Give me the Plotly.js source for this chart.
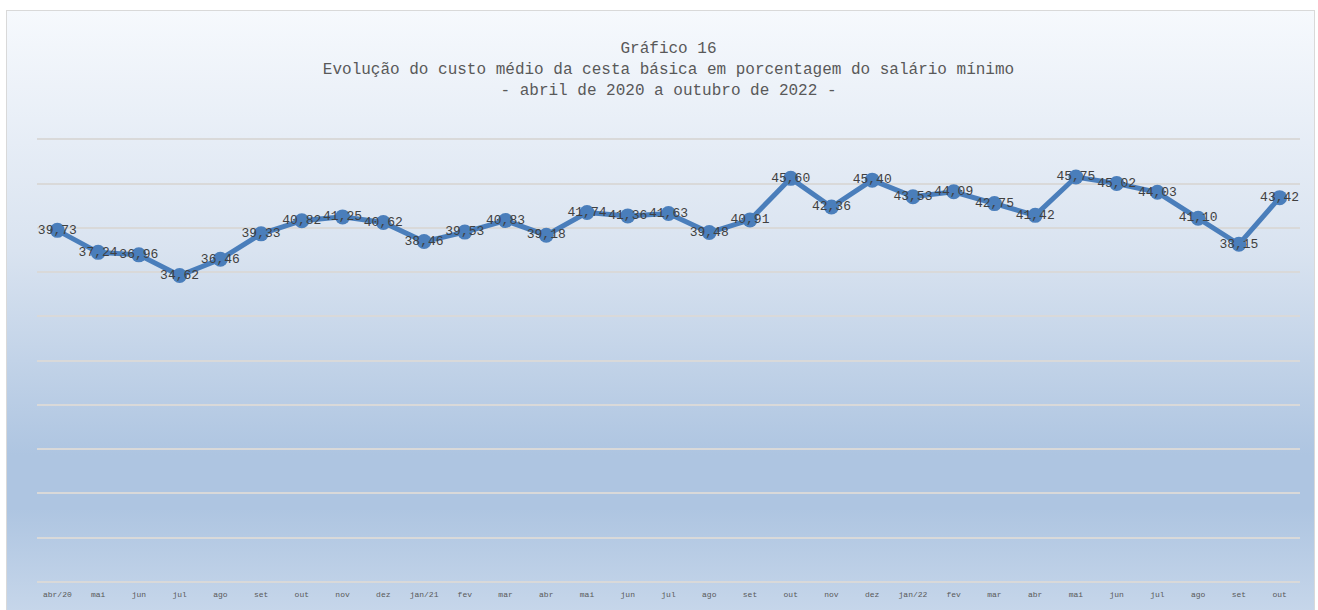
<!DOCTYPE html>
<html>
<head>
<meta charset="utf-8">
<script src="https://cdn.plot.ly/plotly-3.0.1.min.js"></script>
<style>
  html, body { margin: 0; padding: 0; background: #ffffff; }
  #frame {
    position: absolute; left: 6px; top: 10px; width: 1309px; height: 602px;
    border: 1px solid #d9d9d9; box-sizing: border-box;
    background: linear-gradient(to bottom, #f6f9fd 0%, #d9e3f0 40%, #aec5e1 74%, #aec5e1 83%, #c6d6ea 100%);
  }
  #chart { position: absolute; left: 0; top: 0; width: 1318px; height: 610px; }
</style>
</head>
<body>
<div id="frame"></div>
<div id="chart"></div>
<script>
const monthLabels = ["abr/20","mai","jun","jul","ago","set","out","nov","dez","jan/21","fev","mar","abr","mai","jun","jul","ago","set","out","nov","dez","jan/22","fev","mar","abr","mai","jun","jul","ago","set","out"];
const costPct = [39.73,37.24,36.96,34.62,36.46,39.33,40.82,41.25,40.62,38.46,39.53,40.83,39.18,41.74,41.36,41.63,39.48,40.91,45.60,42.36,45.40,43.53,44.09,42.75,41.42,45.75,45.02,44.03,41.10,38.15,43.42];
const titleLines = ["Gráfico 16","Evolução do custo médio da cesta básica em porcentagem do salário mínimo","- abril de 2020 a outubro de 2022 -"];

const xIdx = monthLabels.map((_, i) => i);
const FONT = '"Liberation Mono", "DejaVu Sans Mono", monospace';

const trace = {
  type: 'scatter',
  mode: 'lines+markers+text',
  x: xIdx,
  y: costPct,
  line: { color: '#4a7ebb', width: 5 },
  marker: { color: '#4a7ebb', size: 15 },
  texttemplate: '%{y:.2f}',
  textposition: 'middle center',
  textfont: { family: FONT, size: 13, color: '#404040' },
  cliponaxis: false,
  hoverinfo: 'x+y'
};

const layout = {
  width: 1318, height: 610,
  separators: ',.',
  paper_bgcolor: 'rgba(0,0,0,0)',
  plot_bgcolor: 'rgba(0,0,0,0)',
  margin: { l: 37, r: 18, t: 135, b: 28 },
  showlegend: false,
  title: {
    text: titleLines.join('<br>'),
    font: { family: FONT, size: 16, color: '#595959' },
    x: 0.5, xref: 'paper', xanchor: 'center',
    y: 0.913, yref: 'container', yanchor: 'middle'
  },
  xaxis: {
    range: [-0.5, 30.5],
    tickvals: xIdx,
    ticktext: monthLabels,
    showgrid: false,
    zeroline: false,
    showline: false,
    ticks: '',
    ticklabelstandoff: 6,
    tickangle: 0,
    tickfont: { family: FONT, size: 8, color: '#595959' }
  },
  yaxis: {
    range: [0, 50.5],
    dtick: 5,
    tick0: 0,
    showticklabels: false,
    showgrid: true,
    gridcolor: '#d9d9d9',
    gridwidth: 2,
    zeroline: true,
    zerolinecolor: '#d9d9d9',
    zerolinewidth: 2,
    showline: false,
    ticks: ''
  }
};

Plotly.newPlot('chart', [trace], layout, { displayModeBar: false, staticPlot: true });
</script>
</body>
</html>
